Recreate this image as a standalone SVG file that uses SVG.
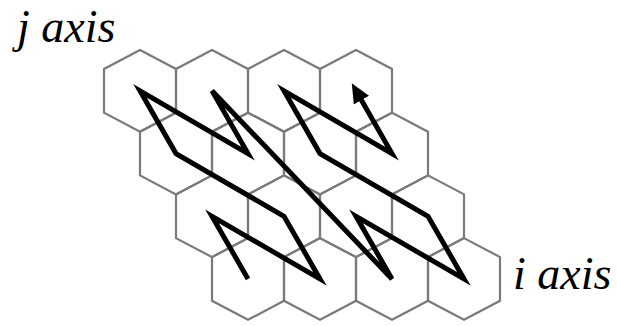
<svg xmlns="http://www.w3.org/2000/svg" xmlns:xlink="http://www.w3.org/1999/xlink" width="617" height="326" viewBox="0 0 617 326">
<style>
.hex{fill:none;stroke:#7a7a7a;stroke-width:2.2}
.curve{fill:none;stroke:#000;stroke-width:5;stroke-linejoin:miter}
.lbl{font-family:'Liberation Serif','Times New Roman',serif;font-style:italic;font-size:46px;fill:#000}
</style>
<defs>
<polygon id="hex" points="0,-40.85 36,-21.85 36,21.85 0,40.85 -36,21.85 -36,-21.85"/>
<marker id="ah" markerUnits="userSpaceOnUse" markerWidth="20" markerHeight="20" viewBox="0 -8 16 16" refX="1" refY="0" orient="auto">
<path d="M0,-7 L15.5,0 L0,7 Z" fill="#000"/>
</marker>
</defs>
<rect width="617" height="326" fill="#fff"/>
<g id="grid">
<g id="r1c1"><use xlink:href="#hex" class="hex" x="140" y="90.85"/></g>
<g id="r1c2"><use xlink:href="#hex" class="hex" x="212" y="90.85"/></g>
<g id="r1c3"><use xlink:href="#hex" class="hex" x="284" y="90.85"/></g>
<g id="r1c4"><use xlink:href="#hex" class="hex" x="356" y="90.85"/></g>
<g id="r2c1"><use xlink:href="#hex" class="hex" x="176" y="153.55"/></g>
<g id="r2c2"><use xlink:href="#hex" class="hex" x="248" y="153.55"/></g>
<g id="r2c3"><use xlink:href="#hex" class="hex" x="320" y="153.55"/></g>
<g id="r2c4"><use xlink:href="#hex" class="hex" x="392" y="153.55"/></g>
<g id="r3c1"><use xlink:href="#hex" class="hex" x="212" y="216.25"/></g>
<g id="r3c2"><use xlink:href="#hex" class="hex" x="284" y="216.25"/></g>
<g id="r3c3"><use xlink:href="#hex" class="hex" x="356" y="216.25"/></g>
<g id="r3c4"><use xlink:href="#hex" class="hex" x="428" y="216.25"/></g>
<g id="r4c1"><use xlink:href="#hex" class="hex" x="248" y="278.95"/></g>
<g id="r4c2"><use xlink:href="#hex" class="hex" x="320" y="278.95"/></g>
<g id="r4c3"><use xlink:href="#hex" class="hex" x="392" y="278.95"/></g>
<g id="r4c4"><use xlink:href="#hex" class="hex" x="464" y="278.95"/></g>
</g>
<g id="connectors">
<polyline class="curve" marker-end="url(#ah)" points="248,278.95 212,216.25 320,278.95 284,216.25 176,153.55 140,90.85 248,153.55 212,90.85 392,278.95 356,216.25 464,278.95 428,216.25 320,153.55 284,90.85 392,153.55 360.8,99.1"/>
</g>
<g id="labels">
<text class="lbl" x="17" y="42">j axis</text>
<text class="lbl" x="513" y="289">i axis</text>
</g>
</svg>
